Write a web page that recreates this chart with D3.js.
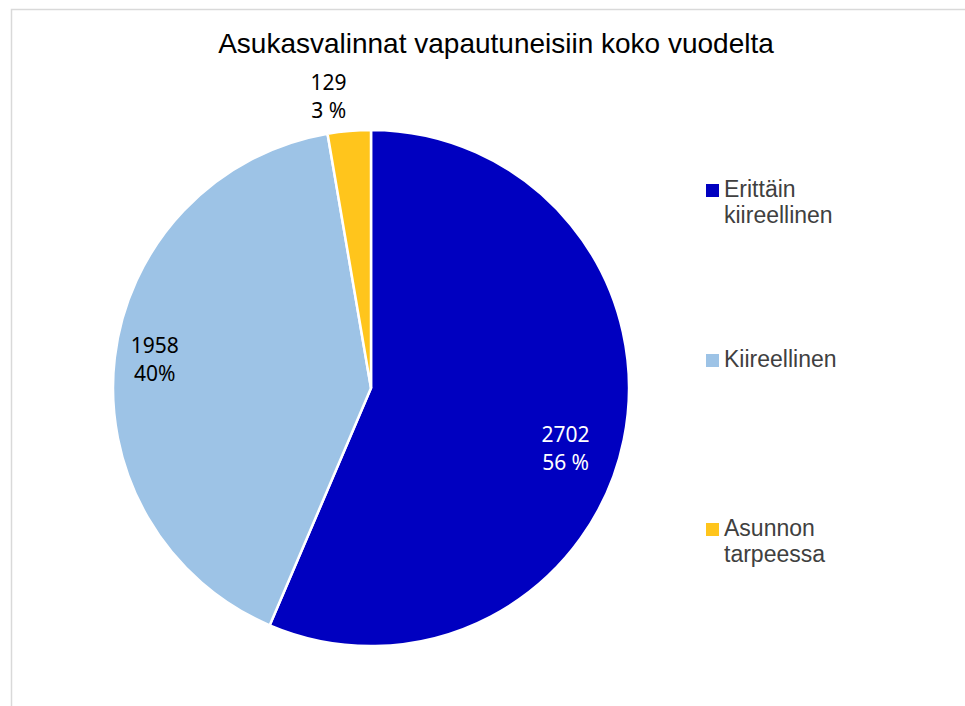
<!DOCTYPE html>
<html>
<head>
<meta charset="utf-8">
<script src="https://cdn.jsdelivr.net/npm/d3@7"></script>
<style>
  html, body { margin: 0; padding: 0; background: #fff; }
  svg { display: block; }
</style>
</head>
<body>
<div id="chart"></div>
<script>
// ── Data ─────────────────────────────────────
const TITLE = "Asukasvalinnat vapautuneisiin koko vuodelta";
const CATEGORIES = ["Erittäin kiireellinen", "Kiireellinen", "Asunnon tarpeessa"];
const LEGEND_LINES = [["Erittäin", "kiireellinen"], ["Kiireellinen"], ["Asunnon", "tarpeessa"]];
const VALUES = [2702, 1958, 129];
const PCT_LABELS = ["56 %", "40%", "3 %"];
const COLORS = ["#0000C0", "#9DC3E6", "#FFC51C"];

(function () {
  const W = 965, H = 706;
  const cx = 371, cy = 388, R = 258;

  const svg = d3.select("#chart").append("svg")
    .attr("width", W).attr("height", H);

  // chart frame (only top & left visible)
  svg.append("rect")
    .attr("x", 11.5).attr("y", 9.5)
    .attr("width", W + 20).attr("height", H + 20)
    .attr("fill", "#fff").attr("stroke", "#D9D9D9").attr("stroke-width", 1.5);

  // ── Title ──────────────────────────────────
  svg.append("text")
    .attr("x", 496).attr("y", 53)
    .attr("text-anchor", "middle")
    .attr("font-family", "'Liberation Sans', Arial, sans-serif")
    .attr("font-size", "28px").attr("fill", "#000")
    .text(TITLE);

  // ── Pie ────────────────────────────────────
  const color = d3.scaleOrdinal().domain(CATEGORIES).range(COLORS);
  const pie = d3.pie().sort(null).value(d => d.value);
  const data = CATEGORIES.map((c, i) => ({ cat: c, value: VALUES[i], pct: PCT_LABELS[i] }));
  const arcs = pie(data);
  const arc = d3.arc().innerRadius(0).outerRadius(R);

  const g = svg.append("g").attr("transform", `translate(${cx},${cy})`);

  g.selectAll("path.slice")
    .data(arcs)
    .join("path")
      .attr("class", "slice")
      .attr("d", arc)
      .attr("fill", d => color(d.data.cat))
      .attr("stroke", "#fff")
      .attr("stroke-width", 2.5)
      .attr("stroke-linejoin", "round");

  // ── Data labels ────────────────────────────
  // label radius as fraction of R; small slice goes outside
  const labelR = [0.79, 0.845, 1.14];
  const labelShift = [0.1, 0.01, -0.06]; // angle nudge (rad)
  const labelColor = ["#fff", "#000", "#000"];

  arcs.forEach((d, i) => {
    const a = (d.startAngle + d.endAngle) / 2 + labelShift[i];
    const r = R * labelR[i];
    const x = Math.sin(a) * r;
    const y = -Math.cos(a) * r;
    const t = g.append("text")
      .attr("text-anchor", "middle")
      .attr("font-family", "'Noto Sans', sans-serif")
      .attr("font-size", "21px")
      .attr("fill", labelColor[i]);
    t.append("tspan").attr("x", x).attr("y", y - 7).text(d.data.value);
    t.append("tspan").attr("x", x).attr("y", y + 21).text(d.data.pct);
  });

  // ── Legend ─────────────────────────────────
  const legendY = [197, 367, 536];
  const legend = svg.append("g").attr("transform", "translate(706,0)");
  CATEGORIES.forEach((c, i) => {
    const by = legendY[i];
    legend.append("rect")
      .attr("x", 0).attr("y", by - 13)
      .attr("width", 13).attr("height", 13)
      .attr("fill", color(c));
    const t = legend.append("text")
      .attr("font-family", "'Liberation Sans', Arial, sans-serif")
      .attr("font-size", "23px").attr("fill", "#404040");
    LEGEND_LINES[i].forEach((ln, j) => {
      t.append("tspan").attr("x", 18).attr("y", by + j * 26).text(ln);
    });
  });
})();
</script>
</body>
</html>
